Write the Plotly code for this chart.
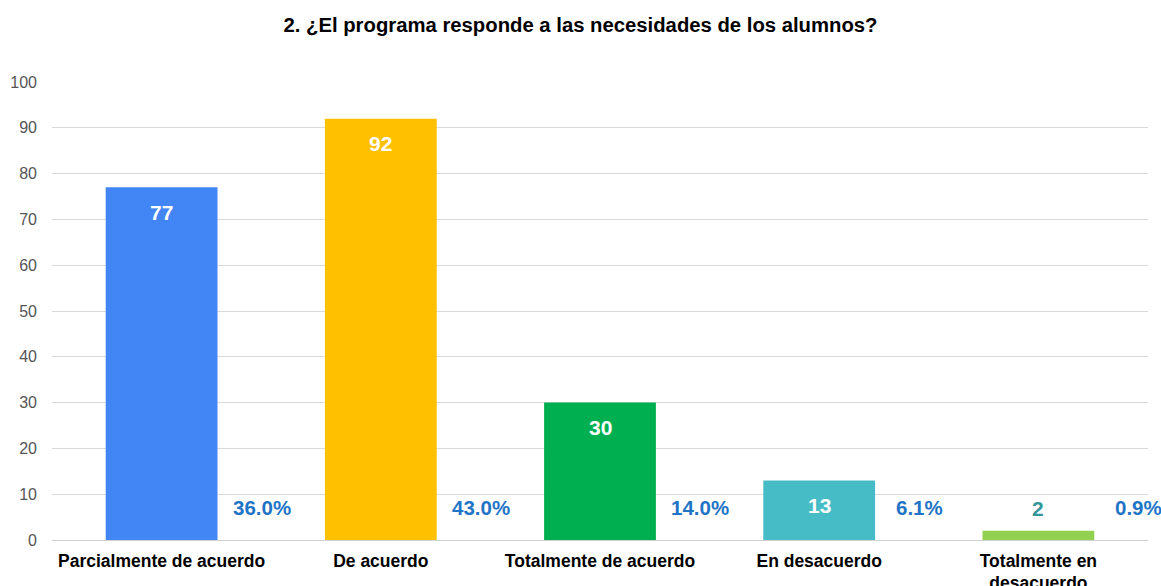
import plotly.graph_objects as go

categories = ["Parcialmente de acuerdo", "De acuerdo", "Totalmente de acuerdo",
              "En desacuerdo", "Totalmente en<br>desacuerdo"]
values = [77, 92, 30, 13, 2]
percent_labels = ["36.0%", "43.0%", "14.0%", "6.1%", "0.9%"]
colors = ["#4285F4", "#FFC000", "#00B050", "#46BDC6", "#92D050"]
y_ticks = [0, 10, 20, 30, 40, 50, 60, 70, 80, 90, 100]

x_idx = list(range(len(categories)))

fig = go.Figure()
fig.add_trace(go.Bar(
    x=x_idx, y=values, marker=dict(color=colors, line=dict(width=0)),
    width=0.51, hoverinfo="skip", showlegend=False,
))

annotations = []
for i, v in enumerate(values):
    inside = v >= 5
    annotations.append(dict(
        x=i, y=v, xref="x", yref="y", text=f"<b>{v}</b>", showarrow=False,
        yanchor="middle", yshift=-25 if inside else 22,
        font=dict(family="Liberation Sans, Arial, sans-serif", size=21,
                  color="#FFFFFF" if inside else "#35979B"),
    ))
    annotations.append(dict(
        x=i + 0.458, y=7.2, xref="x", yref="y", text=f"<b>{percent_labels[i]}</b>",
        showarrow=False, yanchor="middle",
        font=dict(family="Liberation Sans, Arial, sans-serif", size=20.5, color="#1F74C6"),
    ))

fig.update_layout(
    width=1161, height=586,
    margin=dict(l=52, r=13, t=82, b=46, autoexpand=False),
    paper_bgcolor="white", plot_bgcolor="white",
    title=dict(text="<b>2. ¿El programa responde a las necesidades de los alumnos?</b>",
               x=0.5, xanchor="center", y=0.957, yanchor="middle",
               font=dict(family="Liberation Sans, Arial, sans-serif",
                         size=20.3, color="#000000")),
    annotations=annotations,
)
fig.update_xaxes(
    tickmode="array", tickvals=x_idx, ticktext=[f"<b>{c}</b>" for c in categories],
    range=[-0.5, 4.5], showgrid=False, zeroline=False, showline=False, ticks="",
    tickfont=dict(family="Liberation Sans, Arial, sans-serif", size=17.5, color="#000000"),
    ticklabelstandoff=8, automargin=False,
)
fig.update_yaxes(
    range=[0, 100], tickmode="array", tickvals=y_ticks,
    showgrid=True, gridcolor="#D9D9D9", gridwidth=1,
    zeroline=True, zerolinecolor="#D0D0D0", zerolinewidth=1,
    showline=False, ticks="",
    tickfont=dict(family="Liberation Sans, Arial, sans-serif", size=16, color="#555555"),
    ticklabelstandoff=14, automargin=False,
)

fig.write_html("out.html", config={"displayModeBar": False},
               post_script="document.body.style.margin='0';document.body.style.overflow='hidden';")
